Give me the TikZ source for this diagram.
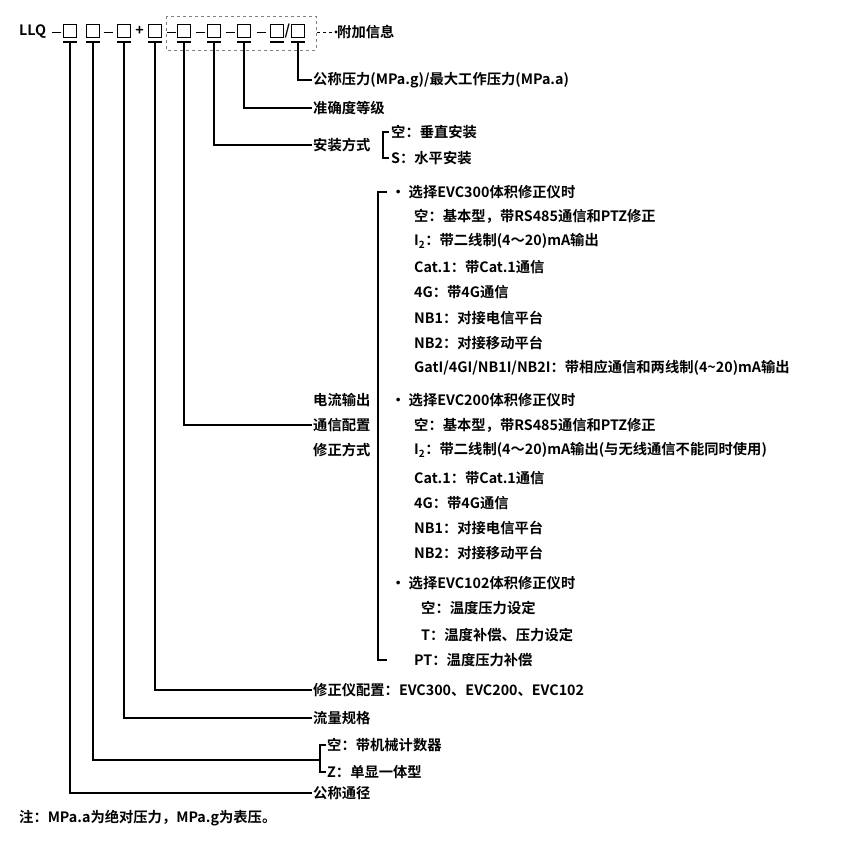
\documentclass[tikz,border=0pt]{standalone}
\usepackage{fontspec}
\setmainfont{Noto Sans CJK SC}[BoldFont={Noto Sans CJK SC Bold}]
\usetikzlibrary{positioning}
\tikzset{
  sq/.style={draw, line width=1pt, minimum size=13pt, inner sep=0pt},
  lbl/.style={anchor=west, inner sep=1pt, font=\bfseries\fontsize{14.3}{16}\selectfont},
  lead/.style={line width=1.3pt},
}
\begin{document}
\begin{tikzpicture}[x=1pt, y=-1pt]
  \useasboundingbox (0,0) rectangle (841,841);

  % code string
  \node[lbl, inner sep=0pt] (llq) at (19,32) {LLQ};
  \foreach \n/\x in {1/70, 2/93, 3/124, 4/155, 5/184, 6/214, 7/244, 8/277, 9/298} {
    \node[sq] (b\n) at (\x,31) {};
    \draw[lead] ([xshift=-7pt,yshift=-4pt]b\n.south) -- ([xshift=7pt,yshift=-4pt]b\n.south);
  }
  \foreach \x in {56, 108, 171, 200, 230, 261} \draw[line width=1pt] (\x-4.5,32) -- (\x+4.5,32);
  \node[lbl, anchor=center, inner sep=0pt] at (139.5,31) {+};
  \node[lbl, anchor=center, inner sep=0pt] at (287.5,31) {/};
  \draw[dashed, gray, line width=0.8pt] (166,16) rectangle (316,50);
  \node[lbl] (extra) at (336,32) {附加信息};
  \draw[dashed, line width=0.8pt] (317,32) -- (extra.west) node[circle, fill, inner sep=1.2pt] {};

  % right side labels
  \node[lbl] (press) at (312,80) {公称压力(MPa.g)/最大工作压力(MPa.a)};
  \node[lbl] (acc) at (312,108) {准确度等级};
  \node[lbl] (mount) at (312,145) {安装方式};
  \node[lbl] (mv) at (390,132) {空：垂直安装};
  \node[lbl] (mh) at (390,158) {S：水平安装};
  \draw[lead] (389,132) -- (383,132) -- (383,158) -- (389,158);

  \node[lbl] at (312,400) {电流输出};
  \node[lbl] (comm) at (312,425) {通信配置};
  \node[lbl] at (312,450) {修正方式};
  \draw[lead] (387,192) -- (378,192) -- (378,660) -- (387,660);

  \node[lbl] at (390,192) {• 选择EVC300体积修正仪时};
  \foreach \y/\t in {216/{空：基本型，带RS485通信和PTZ修正},
                     241/{I\textsubscript{2}：带二线制(4～20)mA输出},
                     267/{Cat.1：带Cat.1通信},
                     292/{4G：带4G通信},
                     318/{NB1：对接电信平台},
                     343/{NB2：对接移动平台},
                     368/{GatI/4GI/NB1I/NB2I：带相应通信和两线制(4\textasciitilde 20)mA输出}}
    \node[lbl] at (413,\y) {\t};

  \node[lbl] at (390,400) {• 选择EVC200体积修正仪时};
  \foreach \y/\t in {425/{空：基本型，带RS485通信和PTZ修正},
                     450/{I\textsubscript{2}：带二线制(4～20)mA输出(与无线通信不能同时使用)},
                     478/{Cat.1：带Cat.1通信},
                     503/{4G：带4G通信},
                     528/{NB1：对接电信平台},
                     553/{NB2：对接移动平台}}
    \node[lbl] at (413,\y) {\t};

  \node[lbl] at (390,583) {• 选择EVC102体积修正仪时};
  \node[lbl] at (420,608) {空：温度压力设定};
  \node[lbl] at (420,635) {T：温度补偿、压力设定};
  \node[lbl] at (413,660) {PT：温度压力补偿};

  \node[lbl] (corr) at (312,690) {修正仪配置：EVC300、EVC200、EVC102};
  \node[lbl] (flow) at (312,718) {流量规格};
  \node[lbl] (cz) at (326,745) {空：带机械计数器};
  \node[lbl] (cs) at (326,772) {Z：单显一体型};
  \draw[lead] (326,745) -- (320,745) -- (320,772) -- (326,772);
  \coordinate (cbr) at (320,760);
  \node[lbl] (dn) at (312,793) {公称通径};

  % leaders
  \draw[lead] ([yshift=-5pt]b9.south) |- (press.west);
  \draw[lead] ([yshift=-5pt]b7.south) |- (acc.west);
  \draw[lead] ([yshift=-5pt]b6.south) |- (mount.west);
  \draw[lead] ([yshift=-5pt]b5.south) |- (comm.west);
  \draw[lead] ([yshift=-5pt]b4.south) |- (corr.west);
  \draw[lead] ([yshift=-5pt]b3.south) |- (flow.west);
  \draw[lead] ([yshift=-5pt]b2.south) |- (cbr);
  \draw[lead] ([yshift=-5pt]b1.south) |- (dn.west);

  \node[lbl] (note) at (18,818) {注：MPa.a为绝对压力，MPa.g为表压。};
\end{tikzpicture}
\end{document}
